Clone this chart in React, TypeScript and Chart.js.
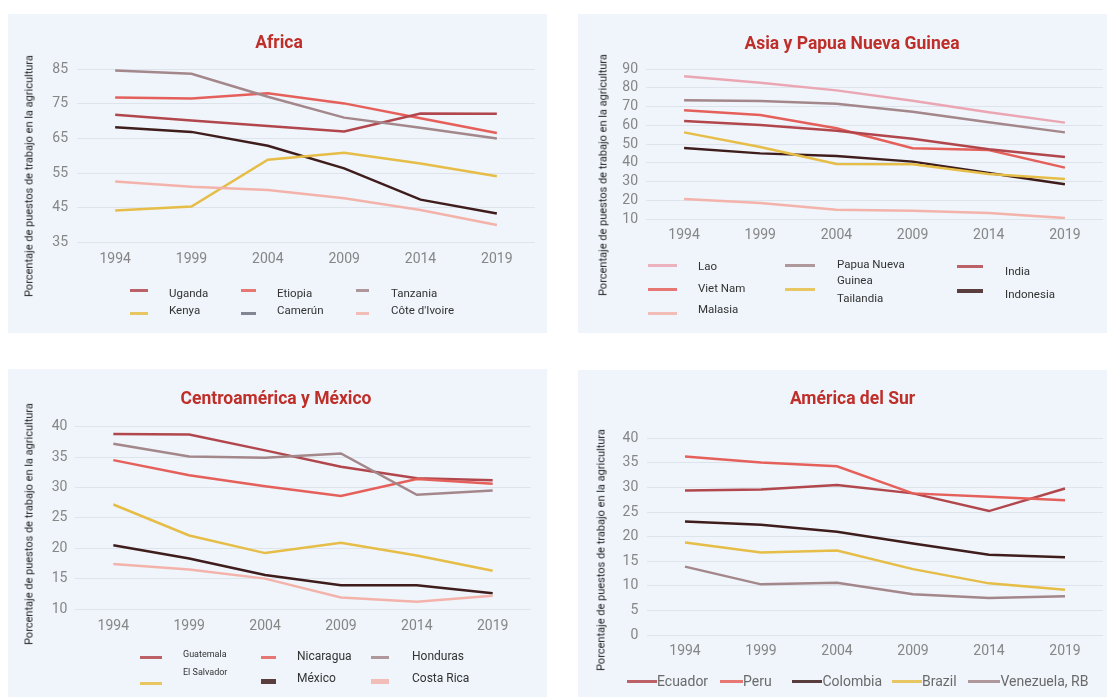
import React, { useEffect, useRef } from "react";
import { Chart, registerables } from "chart.js";

Chart.register(...registerables);

// ---------- data ----------
const years = ["1994", "1999", "2004", "2009", "2014", "2019"];

// Africa
const uganda = [71.8, 70.2, 68.6, 67.0, 72.2, 72.1];
const etiopia = [76.8, 76.5, 78.0, 75.1, 70.8, 66.6];
const tanzania = [84.6, 83.6, 77.0, 71.0, 68.1, 65.0];
const kenya = [44.3, 45.4, 58.9, 60.9, 57.8, 54.1];
const camerun = [68.2, 66.9, 62.9, 56.4, 47.4, 43.4];
const coteDivoire = [52.6, 51.1, 50.2, 47.8, 44.4, 40.1];

// Asia y Papua Nueva Guinea
const lao = [86.1, 82.7, 78.6, 73.1, 66.9, 61.4];
const vietNam = [68.0, 65.5, 58.4, 47.7, 46.8, 37.4];
const malasia = [20.7, 18.5, 14.9, 14.4, 13.2, 10.5];
const papua = [73.3, 72.9, 71.5, 67.2, 61.6, 56.2];
const tailandia = [56.2, 48.4, 39.3, 39.2, 34.0, 31.3];
const india = [62.3, 60.1, 57.1, 52.8, 47.2, 43.1];
const indonesia = [47.9, 45.0, 43.6, 40.6, 34.5, 28.5];

// Centroamérica y México
const guatemala = [38.8, 38.7, 36.1, 33.4, 31.5, 31.2];
const elSalvador = [27.2, 22.1, 19.2, 20.9, 18.8, 16.3];
const nicaragua = [34.5, 32.0, 30.2, 28.6, 31.4, 30.6];
const mexico = [20.5, 18.3, 15.6, 13.9, 13.9, 12.6];
const honduras = [37.2, 35.1, 34.9, 35.6, 28.8, 29.5];
const costaRica = [17.4, 16.5, 15.0, 11.9, 11.2, 12.2];

// América del Sur
const ecuador = [29.4, 29.6, 30.5, 28.8, 25.2, 29.8];
const peru = [36.3, 35.1, 34.3, 28.8, 28.1, 27.4];
const colombia = [23.1, 22.4, 21.0, 18.6, 16.3, 15.8];
const brazil = [18.8, 16.8, 17.2, 13.4, 10.5, 9.2];
const venezuela = [13.9, 10.3, 10.6, 8.3, 7.5, 7.9];

const africaTicks = { min: 35, max: 85, step: 10 };
const asiaTicks = { min: 10, max: 90, step: 10 };
const centroTicks = { min: 10, max: 40, step: 5 };
const surTicks = { min: 0, max: 40, step: 5 };

const Y_TITLE = "Porcentaje de puestos de trabajo en la agricultura";

// ---------- styles ----------
const DARKRED = "#b1474c";
const SALMON = "#e5605a";
const MAUVE = "#a3878b";
const YELLOW = "#e6bd47";
const DARK = "#3f1d1c";
const LIGHTPINK = "#f3b3aa";
const LAOPINK = "#eba6b3";

const BG = "#eff5fb";
const GRID = "#dde4ec";
const TICK = "#868686";
const TITLE_COLOR = "#bf2f2a";
const FONT = "Roboto, 'Noto Sans', sans-serif";

type Leg = { lx: number; lw: number; ly: number; th?: number; tx: number; ty: number; fs: number; color?: string; lines?: string[] };
type Series = { name: string; values: number[]; color: string; leg: Leg };

type PanelCfg = {
  title: string;
  left: number; top: number; w: number; h: number;
  padL: number; padR: number; padB: number; yW: number;
  titlePadTop: number; titlePadBottom: number;
  xPad: number; yPad: number;
  ticks: { min: number; max: number; step: number };
  yTitle: { x: number; y: number };
  series: Series[];
  legendColor: string;
};

const panels: PanelCfg[] = [
  {
    title: "Africa",
    left: 8, top: 14, w: 539, h: 319,
    padL: 15, padR: 12, padB: 60.3, yW: 54,
    titlePadTop: 19.5, titlePadBottom: 14.5,
    xPad: 8.2, yPad: 9,
    ticks: africaTicks,
    yTitle: { x: 29, y: 176 },
    legendColor: "#333",
    series: [
      { name: "Côte d'Ivoire", values: coteDivoire, color: LIGHTPINK, leg: { lx: 356, lw: 13, ly: 313, tx: 391, ty: 310, fs: 11.5 } },
      { name: "Kenya", values: kenya, color: YELLOW, leg: { lx: 130, lw: 18, ly: 313, tx: 169, ty: 310, fs: 11.5 } },
      { name: "Tanzania", values: tanzania, color: MAUVE, leg: { lx: 356, lw: 13, ly: 290, tx: 391, ty: 293, fs: 11.5 } },
      { name: "Uganda", values: uganda, color: DARKRED, leg: { lx: 130, lw: 18, ly: 290, tx: 169, ty: 293, fs: 11.5 } },
      { name: "Etiopia", values: etiopia, color: SALMON, leg: { lx: 241, lw: 15, ly: 290, tx: 277, ty: 293, fs: 11.5 } },
      { name: "Camerún", values: camerun, color: DARK, leg: { lx: 241, lw: 15, ly: 313, tx: 277, ty: 310, fs: 11.5, color: "#6e7280" } },
    ],
  },
  {
    title: "Asia y Papua Nueva Guinea",
    left: 578, top: 14, w: 529, h: 319,
    padL: 23, padR: 4, padB: 84, yW: 45,
    titlePadTop: 20.5, titlePadBottom: 13.5,
    xPad: 7.6, yPad: 8,
    ticks: asiaTicks,
    yTitle: { x: 603, y: 175 },
    legendColor: "#333",
    series: [
      { name: "Malasia", values: malasia, color: LIGHTPINK, leg: { lx: 648, lw: 29, ly: 313, tx: 698, ty: 309, fs: 11.5 } },
      { name: "Lao", values: lao, color: LAOPINK, leg: { lx: 648, lw: 29, ly: 265, tx: 698, ty: 266, fs: 11.5 } },
      { name: "Papua Nueva Guinea", values: papua, color: MAUVE, leg: { lx: 785, lw: 30, ly: 265, tx: 837, ty: 272.6, fs: 11.5, lines: ["Papua Nueva", "Guinea"] } },
      { name: "Tailandia", values: tailandia, color: YELLOW, leg: { lx: 785, lw: 30, ly: 289, tx: 837, ty: 297.7, fs: 11.5 } },
      { name: "India", values: india, color: DARKRED, leg: { lx: 957, lw: 26, ly: 266.7, tx: 1005, ty: 271, fs: 11.5 } },
      { name: "Viet Nam", values: vietNam, color: SALMON, leg: { lx: 648, lw: 29, ly: 289, tx: 698, ty: 288, fs: 11.5 } },
      { name: "Indonesia", values: indonesia, color: DARK, leg: { lx: 957, lw: 26, ly: 291, th: 4, tx: 1005, ty: 294, fs: 11.5 } },
    ],
  },
  {
    title: "Centroamérica y México",
    left: 8, top: 369, w: 539, h: 328,
    padL: 13.4, padR: 16.4, padB: 58, yW: 54,
    titlePadTop: 20, titlePadBottom: 16.7,
    xPad: 9.3, yPad: 8,
    ticks: centroTicks,
    yTitle: { x: 29, y: 524 },
    legendColor: "#333",
    series: [
      { name: "Costa Rica", values: costaRica, color: LIGHTPINK, leg: { lx: 371, lw: 18, ly: 681.7, th: 5, tx: 412, ty: 679, fs: 12 } },
      { name: "El Salvador", values: elSalvador, color: YELLOW, leg: { lx: 140, lw: 22, ly: 683, tx: 183, ty: 673, fs: 9 } },
      { name: "Honduras", values: honduras, color: MAUVE, leg: { lx: 371, lw: 18, ly: 657.7, tx: 412, ty: 657, fs: 12 } },
      { name: "Nicaragua", values: nicaragua, color: SALMON, leg: { lx: 261, lw: 15, ly: 657.7, tx: 297, ty: 657, fs: 12 } },
      { name: "Guatemala", values: guatemala, color: DARKRED, leg: { lx: 140, lw: 22, ly: 657.7, tx: 183, ty: 655, fs: 9 } },
      { name: "México", values: mexico, color: DARK, leg: { lx: 261, lw: 15, ly: 681.7, th: 5, tx: 297, ty: 679, fs: 12 } },
    ],
  },
  {
    title: "América del Sur",
    left: 578, top: 370, w: 529, h: 327,
    padL: 24, padR: 4, padB: 32, yW: 45,
    titlePadTop: 19.5, titlePadBottom: 27.8,
    xPad: 8.3, yPad: 8.7,
    ticks: surTicks,
    yTitle: { x: 601, y: 550 },
    legendColor: "#6a6a6a",
    series: [
      { name: "Venezuela, RB", values: venezuela, color: MAUVE, leg: { lx: 968, lw: 32, ly: 681.3, tx: 1000.5, ty: 681, fs: 14 } },
      { name: "Brazil", values: brazil, color: YELLOW, leg: { lx: 892, lw: 30, ly: 681.3, tx: 922, ty: 681, fs: 14 } },
      { name: "Colombia", values: colombia, color: DARK, leg: { lx: 792, lw: 30, ly: 681.3, th: 3.5, tx: 822.5, ty: 681, fs: 14 } },
      { name: "Peru", values: peru, color: SALMON, leg: { lx: 720, lw: 23, ly: 681.3, tx: 743, ty: 681, fs: 14 } },
      { name: "Ecuador", values: ecuador, color: DARKRED, leg: { lx: 627, lw: 30, ly: 681.3, tx: 657, ty: 681, fs: 14 } },
    ],
  },
];

function Panel({ cfg }: { cfg: PanelCfg }) {
  const ref = useRef<HTMLCanvasElement | null>(null);
  useEffect(() => {
    if (!ref.current) return;
    const chart = new Chart(ref.current, {
      type: "line",
      data: {
        labels: years,
        datasets: cfg.series.map((s) => ({
          label: s.name,
          data: s.values,
          borderColor: s.color,
          backgroundColor: s.color,
          borderWidth: 2.5,
          pointRadius: 0,
          pointHoverRadius: 0,
          tension: 0,
          fill: false,
        })),
      },
      options: {
        animation: false,
        responsive: false,
        devicePixelRatio: 1,
        layout: { padding: { left: cfg.padL, right: cfg.padR, top: 0, bottom: cfg.padB } },
        plugins: {
          legend: { display: false },
          tooltip: { enabled: false },
          title: {
            display: true,
            text: cfg.title,
            color: TITLE_COLOR,
            font: { family: FONT, size: 17.5, weight: "bold", lineHeight: 1.2 },
            padding: { top: cfg.titlePadTop, bottom: cfg.titlePadBottom },
          },
        },
        scales: {
          x: {
            offset: true,
            grid: { display: false, drawTicks: false },
            border: { display: false },
            ticks: { color: TICK, font: { family: FONT, size: 14 }, padding: cfg.xPad, maxRotation: 0 },
            afterFit: (s: any) => { s.height = 30; },
          },
          y: {
            min: cfg.ticks.min,
            max: cfg.ticks.max,
            ticks: { stepSize: cfg.ticks.step, autoSkip: false, color: TICK, font: { family: FONT, size: 14 }, padding: cfg.yPad },
            grid: { color: GRID, lineWidth: 1, drawTicks: false },
            border: { display: false },
            afterFit: (s: any) => { s.width = cfg.yW; },
          },
        },
      } as any,
    });
    return () => chart.destroy();
  }, [cfg]);

  return (
    <>
      <div style={{ position: "absolute", left: cfg.left, top: cfg.top, width: cfg.w, height: cfg.h, background: BG }} />
      <canvas ref={ref} width={cfg.w} height={cfg.h} style={{ position: "absolute", left: cfg.left, top: cfg.top, width: cfg.w, height: cfg.h }} />
      <div
        style={{
          position: "absolute", left: cfg.yTitle.x, top: cfg.yTitle.y,
          transform: "translate(-50%, -50%) rotate(-90deg)", whiteSpace: "nowrap",
          fontFamily: FONT, fontSize: 11, color: "#222", lineHeight: 1,
        }}
      >
        {Y_TITLE}
      </div>
      {cfg.series.map((s) => (
        <React.Fragment key={s.name}>
          <div style={{
            position: "absolute", left: s.leg.lx, top: s.leg.ly - (s.leg.th ?? 3) / 2,
            width: s.leg.lw, height: s.leg.th ?? 3, background: s.leg.color ?? s.color, opacity: 0.85,
          }} />
          <div style={{
            position: "absolute", left: s.leg.tx, top: s.leg.ty, transform: "translateY(-50%)",
            fontFamily: FONT, fontSize: s.leg.fs, color: cfg.legendColor, whiteSpace: "nowrap", lineHeight: 1.45,
          }}>
            {s.leg.lines ? s.leg.lines.map((l) => <div key={l}>{l}</div>) : s.name}
          </div>
        </React.Fragment>
      ))}
    </>
  );
}

export default function App() {
  return (
    <div style={{ position: "absolute", left: 0, top: 0, width: 1107, height: 697, background: "#fff", overflow: "hidden" }}>
      {panels.map((p) => <Panel key={p.title} cfg={p} />)}
    </div>
  );
}
